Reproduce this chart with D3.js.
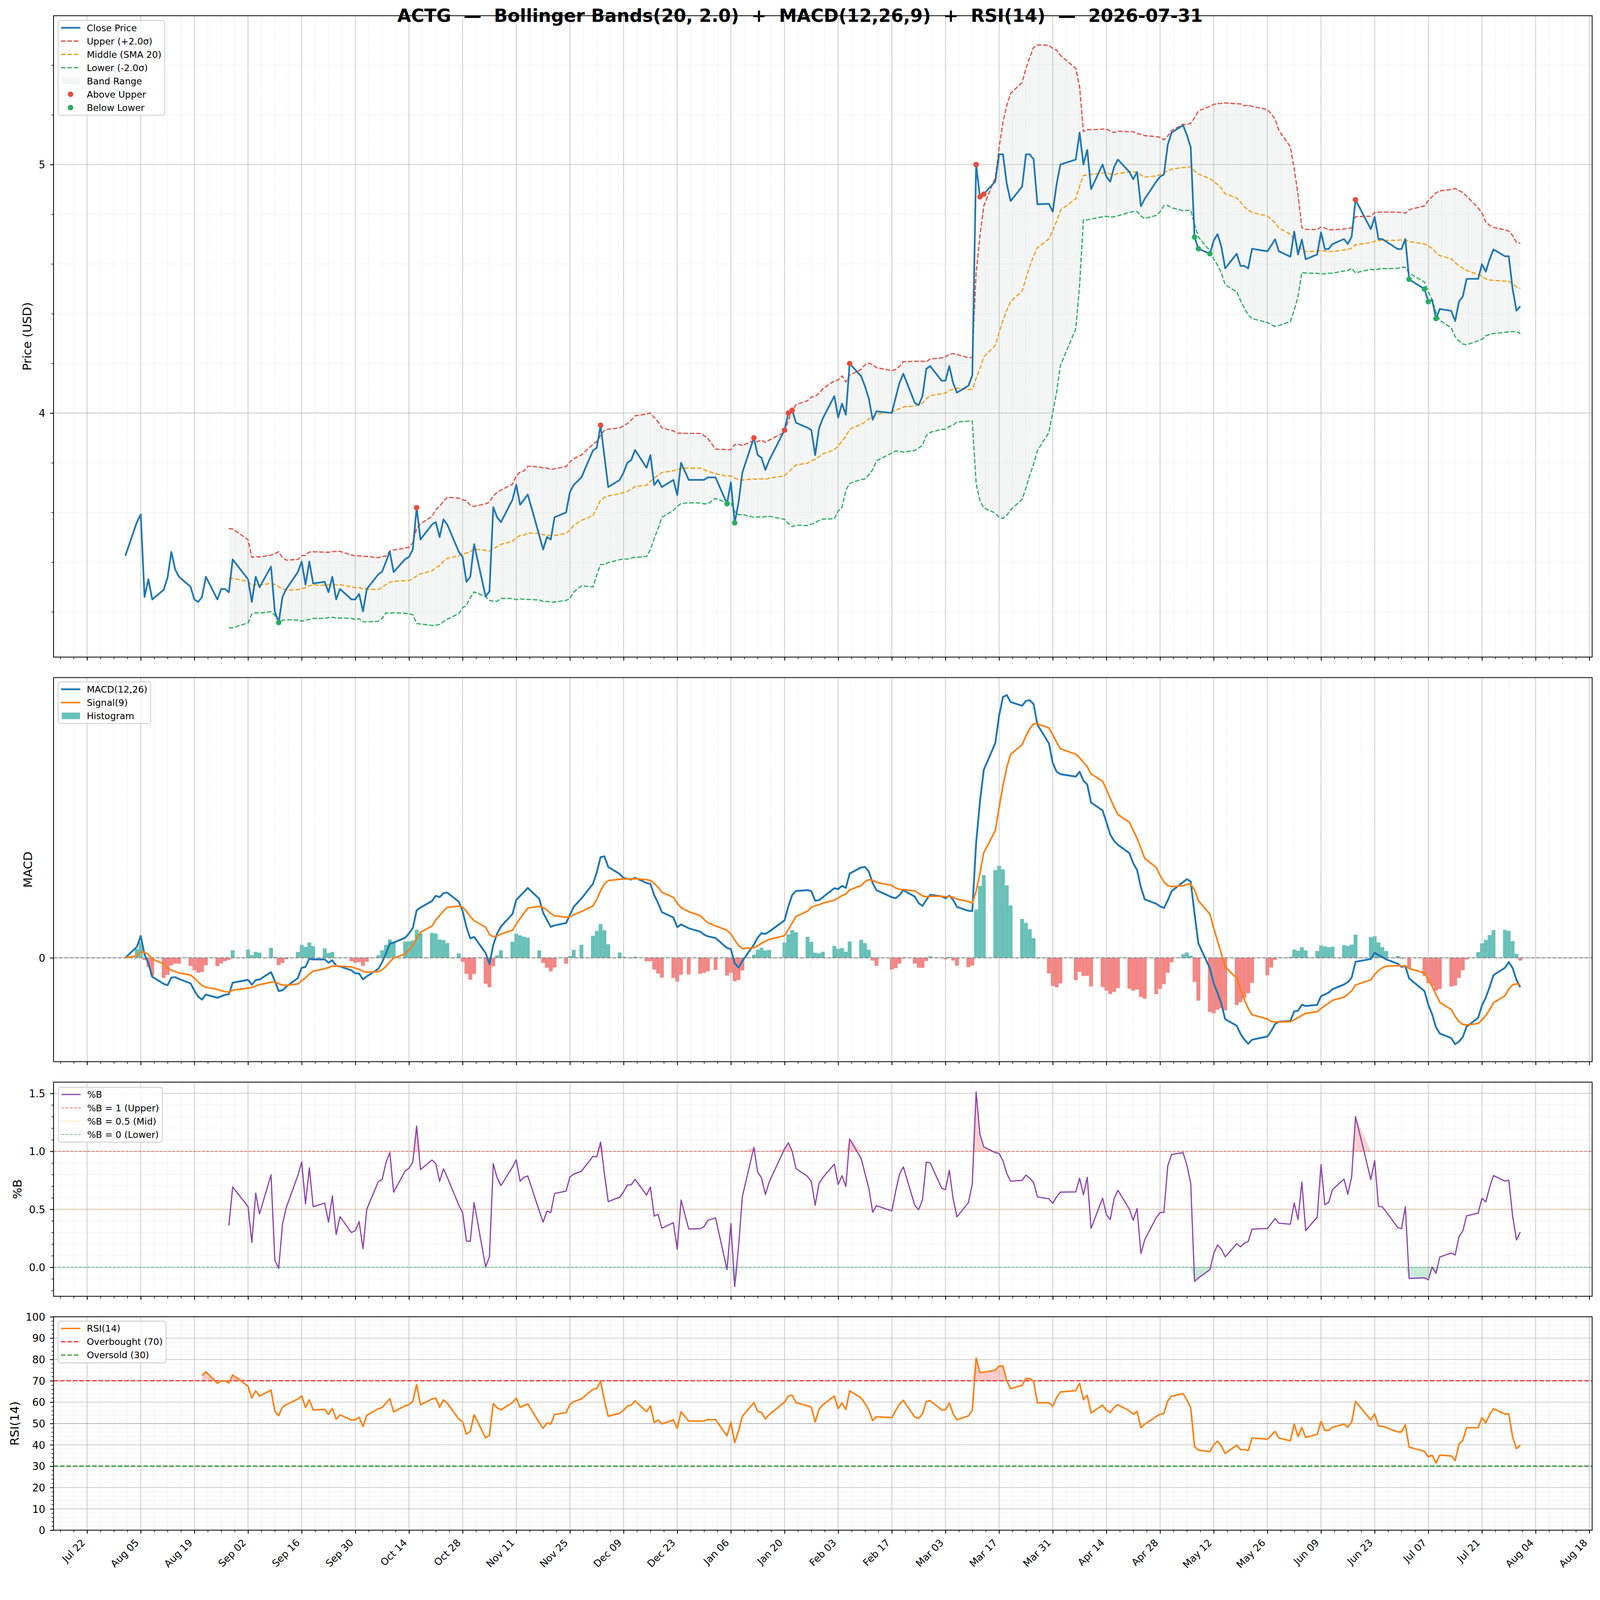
<!DOCTYPE html>
<html>
<head>
<meta charset="utf-8">
<script src="https://cdn.jsdelivr.net/npm/d3@7"></script>
<style>
  html, body { margin: 0; padding: 0; overflow: hidden; background: #fff; }
  #chart { display: block; }
  text { font-family: 'DejaVu Sans', sans-serif; }
</style>
</head>
<body>
<svg id="chart"></svg>
<script>
'use strict'

const W = 4378, H = 4322;

// ---- data ----
const FIRST_DAY = '2025-08-01';
const LAST_DAY = '2026-07-31';
const HOLIDAYS = ['2025-09-01', '2025-11-27', '2025-12-25', '2026-01-01', '2026-01-19',
	'2026-02-16', '2026-04-03', '2026-05-25', '2026-06-19', '2026-07-03'];

const closeAug = [3.426, 3.561, 3.592, 3.260, 3.331, 3.250, 3.289, 3.338, 3.441, 3.370, 3.341,
	3.301, 3.250, 3.240, 3.260, 3.341, 3.250, 3.292, 3.292, 3.279, 3.411];
const closeSep = [3.331, 3.240, 3.341, 3.299, 3.382, 3.201, 3.157, 3.260, 3.292, 3.360, 3.402,
	3.309, 3.402, 3.314, 3.321, 3.279, 3.341, 3.250, 3.292, 3.250, 3.250];
const closeOct = [3.272, 3.202, 3.292, 3.351, 3.362, 3.402, 3.442, 3.360, 3.412, 3.421, 3.451,
	3.619, 3.491, 3.551, 3.561, 3.501, 3.572, 3.551, 3.442, 3.421, 3.321, 3.341, 3.472];
const closeNov = [3.262, 3.282, 3.621, 3.581, 3.561, 3.651, 3.711, 3.631, 3.651, 3.672, 3.508,
	3.451, 3.501, 3.491, 3.581, 3.600, 3.682, 3.711, 3.741];
const closeDec = [3.849, 3.860, 3.951, 3.826, 3.702, 3.731, 3.761, 3.800, 3.811, 3.851, 3.780,
	3.831, 3.710, 3.731, 3.702, 3.731, 3.670, 3.800, 3.731, 3.731, 3.731, 3.741];
const closeJan = [3.741, 3.635, 3.721, 3.558, 3.640, 3.761, 3.900, 3.831, 3.820, 3.771, 3.810,
	3.931, 4.000, 4.011, 3.961, 3.941, 3.931, 3.831, 3.938, 3.979];
const closeFeb = [4.068, 3.982, 4.038, 3.993, 4.199, 4.148, 4.107, 4.058, 3.973, 4.007, 4.000,
	4.062, 4.121, 4.158, 4.041, 4.032, 4.068, 4.178, 4.189];
const closeMar = [4.130, 4.130, 4.189, 4.121, 4.082, 4.110, 4.151, 5.000, 4.870, 4.881, 4.932,
	5.041, 5.041, 4.922, 4.853, 4.911, 5.041, 5.041, 5.021, 4.840, 4.842, 4.810];
const closeApr = [4.921, 5.000, 5.020, 5.128, 5.000, 5.059, 4.901, 5.000, 4.951, 4.931, 4.990,
	5.020, 4.970, 4.941, 4.970, 4.832, 4.862, 4.931, 4.951, 4.960, 5.079];
const closeMay = [5.128, 5.158, 5.119, 5.069, 4.708, 4.661, 4.641, 4.694, 4.720, 4.669, 4.582,
	4.641, 4.592, 4.592, 4.582, 4.661, 4.651, 4.674, 4.699, 4.651];
const closeJun = [4.629, 4.730, 4.638, 4.698, 4.619, 4.638, 4.727, 4.660, 4.660, 4.680, 4.700,
	4.680, 4.710, 4.858, 4.740, 4.789, 4.700, 4.700, 4.690, 4.660, 4.660];
const closeJul = [4.700, 4.538, 4.499, 4.448, 4.456, 4.380, 4.419, 4.411, 4.370, 4.449, 4.469,
	4.540, 4.540, 4.599, 4.569, 4.619, 4.658, 4.631, 4.631, 4.499, 4.412, 4.430];

const PRICE_TICKS = [4, 5];
const MACD_TICKS = [0];
const PCTB_TICKS = [0, 0.5, 1.0, 1.5];
const RSI_TICKS = d3.range(0, 101, 10);
const X_TICK_START = '2025-07-22';

const TITLE = 'ACTG  \u2014  Bollinger Bands(20, 2.0)  +  MACD(12,26,9)  +  RSI(14)  \u2014  2026-07-31';

// ---- dates and indicators ----
const parse = d3.utcParse('%Y-%m-%d');
const DAY = 86400000;
const holidaySet = new Set(HOLIDAYS.map(function(s) { return +parse(s); }));
const dates = d3.utcDay.range(parse(FIRST_DAY), d3.utcDay.offset(parse(LAST_DAY), 1))
	.filter(function(d) { return d.getUTCDay() % 6 !== 0 && !holidaySet.has(+d); });

const close = [].concat(closeAug, closeSep, closeOct, closeNov, closeDec, closeJan,
	closeFeb, closeMar, closeApr, closeMay, closeJun, closeJul);

function ema(arr, span) {
	var a = 2 / (span + 1), out = [];
	arr.forEach(function(v, i) { out[i] = i === 0 ? v : a * v + (1 - a) * out[i - 1]; });
	return out;
}

var n = close.length;
var middle = [], upper = [], lower = [], pctb = [];
for (var i = 0; i < n; i++) {
	if (i < 19) { middle[i] = upper[i] = lower[i] = pctb[i] = null; continue; }
	var win = close.slice(i - 19, i + 1);
	var m = d3.mean(win), s = d3.deviation(win);
	middle[i] = m; upper[i] = m + 2 * s; lower[i] = m - 2 * s;
	pctb[i] = (close[i] - lower[i]) / (upper[i] - lower[i]);
}

var ema12 = ema(close, 12), ema26 = ema(close, 26);
var macd = close.map(function(v, i) { return ema12[i] - ema26[i]; });
var signal = ema(macd, 9);
var hist = macd.map(function(v, i) { return v - signal[i]; });

// Wilder style RSI (ewm alpha 1/14, no adjust), first 14 points masked
var rsi = [], ag = 0, al = 0;
for (var i = 1; i < n; i++) {
	var dlt = close[i] - close[i - 1];
	var gn = Math.max(dlt, 0), ls = Math.max(-dlt, 0);
	if (i === 1) { ag = gn; al = ls; }
	else { ag = ag * 13 / 14 + gn / 14; al = al * 13 / 14 + ls / 14; }
	rsi[i] = i >= 14 ? (al === 0 ? 100 : 100 - 100 / (1 + ag / al)) : null;
}
rsi[0] = null;

var rows = dates.map(function(d, i) {
	return { date: d, close: close[i], upper: upper[i], middle: middle[i], lower: lower[i],
		pctb: pctb[i], macd: macd[i], signal: signal[i], hist: hist[i], rsi: rsi[i] };
});
var banded = rows.filter(function(d) { return d.upper !== null; });

// ---- layout ----
const LEFT = 146.5, RIGHT = 4356.5;
const panels = {
	price: { top: 43, bottom: 1798 },
	macd: { top: 1854, bottom: 2905 },
	pctb: { top: 2961, bottom: 3547 },
	rsi: { top: 3603, bottom: 4187 }
};

function padded(ext) {
	var p = (ext[1] - ext[0]) * 0.05;
	return [ext[0] - p, ext[1] + p];
}

var pad = (0.5 + 0.05 * ((+dates[n - 1] - +dates[0]) / DAY + 1)) * DAY;
var x = d3.scaleUtc()
	.domain([new Date(+dates[0] - pad), new Date(+dates[n - 1] + pad)])
	.range([LEFT, RIGHT]);

var yPrice = d3.scaleLinear()
	.domain(padded(d3.extent([].concat(close, upper.filter(Boolean), lower.filter(Boolean)))))
	.range([panels.price.bottom, panels.price.top]);
var yMacd = d3.scaleLinear()
	.domain(padded(d3.extent([].concat(macd, signal, hist, [0]))))
	.range([panels.macd.bottom, panels.macd.top]);
var yPctb = d3.scaleLinear()
	.domain(padded(d3.extent(pctb.filter(function(v) { return v !== null; }))))
	.range([panels.pctb.bottom, panels.pctb.top]);
var yRsi = d3.scaleLinear().domain([0, 100]).range([panels.rsi.bottom, panels.rsi.top]);

var xMajor = [];
for (var t = +parse(X_TICK_START); t <= +x.domain()[1]; t += 14 * DAY) xMajor.push(new Date(t));
var xMinor = [];
for (var t = +parse(X_TICK_START) - 7 * DAY; t <= +x.domain()[1]; t += 3.5 * DAY) {
	if (t >= +x.domain()[0]) xMinor.push(new Date(t));
}

function stepTicks(scale, step) {
	var dom = scale.domain(), out = [];
	for (var v = Math.ceil(dom[0] / step - 1e-9) * step; v <= dom[1] + 1e-9; v += step) out.push(+v.toFixed(6));
	return out;
}

// scale the drawing to the window width, keep its aspect, anchor top-left
var svg = d3.select('#chart')
	.attr('viewBox', '0 0 ' + W + ' ' + H)
	.attr('preserveAspectRatio', 'xMinYMin meet')
	.style('width', window.innerWidth + 'px')
	.style('height', (window.innerWidth * H / W) + 'px');

svg.append('rect').attr('width', W).attr('height', H).attr('fill', '#ffffff');

var defs = svg.append('defs');
Object.keys(panels).forEach(function(k) {
	var p = panels[k];
	defs.append('clipPath').attr('id', 'clip-' + k)
		.append('rect')
		.attr('x', LEFT).attr('y', p.top)
		.attr('width', RIGHT - LEFT).attr('height', p.bottom - p.top);
});

function panelGroup(k) {
	return svg.append('g').attr('clip-path', 'url(#clip-' + k + ')');
}

function drawGrid(g, k, y, majorY, minorY) {
	var p = panels[k];
	g.selectAll('.gxm').data(xMinor).enter().append('line')
		.attr('x1', function(d) { return x(d); }).attr('x2', function(d) { return x(d); })
		.attr('y1', p.top).attr('y2', p.bottom)
		.attr('stroke', '#b0b0b0').attr('stroke-opacity', 0.45)
		.attr('stroke-width', 1.4).attr('stroke-dasharray', '1.4,2.3');
	g.selectAll('.gym').data(minorY).enter().append('line')
		.attr('x1', LEFT).attr('x2', RIGHT)
		.attr('y1', function(d) { return y(d); }).attr('y2', function(d) { return y(d); })
		.attr('stroke', '#b0b0b0').attr('stroke-opacity', 0.45)
		.attr('stroke-width', 1.4).attr('stroke-dasharray', '1.4,2.3');
	g.selectAll('.gxM').data(xMajor).enter().append('line')
		.attr('x1', function(d) { return x(d); }).attr('x2', function(d) { return x(d); })
		.attr('y1', p.top).attr('y2', p.bottom)
		.attr('stroke', '#b0b0b0').attr('stroke-opacity', 0.6).attr('stroke-width', 2.2);
	g.selectAll('.gyM').data(majorY).enter().append('line')
		.attr('x1', LEFT).attr('x2', RIGHT)
		.attr('y1', function(d) { return y(d); }).attr('y2', function(d) { return y(d); })
		.attr('stroke', '#b0b0b0').attr('stroke-opacity', 0.6).attr('stroke-width', 2.2);
}

function hline(g, y, v, color, opacity, width, dash) {
	g.append('line')
		.attr('x1', LEFT).attr('x2', RIGHT)
		.attr('y1', y(v)).attr('y2', y(v))
		.attr('stroke', color).attr('stroke-opacity', opacity)
		.attr('stroke-width', width).attr('stroke-dasharray', dash);
}

function path(g, data, y, key, color, width, dash) {
	g.append('path')
		.datum(data)
		.attr('fill', 'none')
		.attr('stroke', color)
		.attr('stroke-width', width)
		.attr('stroke-linejoin', 'round')
		.attr('stroke-dasharray', dash || null)
		.attr('d', d3.line()
			.defined(function(d) { return d[key] !== null; })
			.x(function(d) { return x(d.date); })
			.y(function(d) { return y(d[key]); }));
}

function clippedFill(g, data, y, key, level, above, color, opacity) {
	g.append('path')
		.datum(data.filter(function(d) { return d[key] !== null; }))
		.attr('fill', color).attr('fill-opacity', opacity)
		.attr('d', d3.area()
			.x(function(d) { return x(d.date); })
			.y0(y(level))
			.y1(function(d) { return y(above ? Math.max(d[key], level) : Math.min(d[key], level)); }));
}

function axes(k, y, majorY, minorY, fmt, showX) {
	var p = panels[k];
	var g = svg.append('g');

	var ax = g.append('g').attr('transform', 'translate(0,' + p.bottom + ')')
		.call(d3.axisBottom(x).tickValues(xMinor).tickSize(5.6).tickFormat(''));
	ax.selectAll('line').attr('stroke-width', 1.7);
	var axM = g.append('g').attr('transform', 'translate(0,' + p.bottom + ')')
		.call(d3.axisBottom(x).tickValues(xMajor).tickSize(9.7).tickFormat(''));
	axM.selectAll('line').attr('stroke-width', 2.2);
	if (showX) {
		axM.selectAll('.tick').append('text')
			.attr('fill', '#000')
			.attr('font-size', 27)
			.attr('text-anchor', 'end')
			.attr('transform', 'translate(-4,36) rotate(-45)')
			.text(function(d) { return d3.utcFormat('%b %d')(d); });
	}

	var ay = g.append('g').attr('transform', 'translate(' + LEFT + ',0)')
		.call(d3.axisLeft(y).tickValues(minorY).tickSize(5.6).tickFormat(''));
	ay.selectAll('line').attr('stroke-width', 1.7);
	var ayM = g.append('g').attr('transform', 'translate(' + LEFT + ',0)')
		.call(d3.axisLeft(y).tickValues(majorY).tickSize(9.7).tickPadding(13).tickFormat(fmt));
	ayM.selectAll('line').attr('stroke-width', 2.2);
	ayM.selectAll('text')
		.attr('font-size', 28)
		.attr('dy', '0.36em');

	g.selectAll('.domain').remove();
	g.selectAll('.tick text').attr('font-family', 'DejaVu Sans');

	g.append('rect')
		.attr('x', LEFT).attr('y', p.top)
		.attr('width', RIGHT - LEFT).attr('height', p.bottom - p.top)
		.attr('fill', 'none').attr('stroke', '#000').attr('stroke-width', 2.2);
}

function ylabel(k, text, xpos) {
	var p = panels[k];
	svg.append('text')
		.attr('transform', 'translate(' + xpos + ',' + ((p.top + p.bottom) / 2) + ') rotate(-90)')
		.attr('text-anchor', 'middle')
		.attr('dy', '0.36em')
		.attr('font-size', 33)
		.text(text);
}

function legend(lx, ly, items) {
	var g = svg.append('g').attr('transform', 'translate(' + lx + ',' + ly + ')');
	var box = g.append('rect');
	var maxLen = 0;
	items.forEach(function(it, i) {
		var cy = 20 + i * 36.4;
		if (it.type === 'line') {
			g.append('line')
				.attr('x1', 8).attr('x2', 61).attr('y1', cy).attr('y2', cy)
				.attr('stroke', it.color).attr('stroke-width', it.width)
				.attr('stroke-opacity', it.opacity || 1)
				.attr('stroke-dasharray', it.dash || null);
		} else if (it.type === 'patch') {
			g.append('rect')
				.attr('x', 10).attr('y', cy - 9).attr('width', 50).attr('height', 18)
				.attr('fill', it.color).attr('fill-opacity', it.opacity);
		} else {
			g.append('circle').attr('cx', 34).attr('cy', cy).attr('r', 7.5).attr('fill', it.color);
		}
		var t = g.append('text')
			.attr('x', 78.5).attr('y', cy).attr('dy', '0.36em')
			.attr('font-size', 25)
			.text(it.label);
		maxLen = Math.max(maxLen, t.node().getComputedTextLength());
	});
	box.attr('x', 0).attr('y', 0)
		.attr('width', 78.5 + maxLen + 9)
		.attr('height', 20 + (items.length - 1) * 36.4 + 21)
		.attr('rx', 6)
		.attr('fill', '#fff').attr('fill-opacity', 0.8)
		.attr('stroke', '#cccccc').attr('stroke-width', 2.2);
}

// ---- price panel ----
var gp = panelGroup('price');
gp.append('path')
	.datum(banded)
	.attr('fill', '#95a5a6').attr('fill-opacity', 0.1)
	.attr('d', d3.area()
		.x(function(d) { return x(d.date); })
		.y0(function(d) { return yPrice(d.lower); })
		.y1(function(d) { return yPrice(d.upper); }));
drawGrid(gp, 'price', yPrice, PRICE_TICKS, stepTicks(yPrice, 0.2));
path(gp, rows, yPrice, 'upper', '#e74c3c', 3.3, '12.3,5.3');
path(gp, rows, yPrice, 'middle', '#f39c12', 3.3, '12.3,5.3');
path(gp, rows, yPrice, 'lower', '#27ae60', 3.3, '12.3,5.3');
path(gp, rows, yPrice, 'close', '#1f77b4', 4.7);
gp.selectAll('.above')
	.data(banded.filter(function(d) { return d.close > d.upper; }))
	.enter().append('circle')
	.attr('cx', function(d) { return x(d.date); })
	.attr('cy', function(d) { return yPrice(d.close); })
	.attr('r', 7.5).attr('fill', '#e74c3c');
gp.selectAll('.below')
	.data(banded.filter(function(d) { return d.close < d.lower; }))
	.enter().append('circle')
	.attr('cx', function(d) { return x(d.date); })
	.attr('cy', function(d) { return yPrice(d.close); })
	.attr('r', 7.5).attr('fill', '#27ae60');
axes('price', yPrice, PRICE_TICKS, stepTicks(yPrice, 0.2), d3.format('d'), false);
ylabel('price', 'Price (USD)', 74);

// ---- MACD panel ----
var gm = panelGroup('macd');
gm.selectAll('.bar')
	.data(rows)
	.enter().append('rect')
	.attr('x', function(d) { return x(+d.date - DAY / 2); })
	.attr('width', function(d) { return x(+d.date + DAY / 2) - x(+d.date - DAY / 2); })
	.attr('y', function(d) { return yMacd(Math.max(d.hist, 0)); })
	.attr('height', function(d) { return Math.abs(yMacd(d.hist) - yMacd(0)); })
	.attr('fill', function(d) { return d.hist >= 0 ? '#26a69a' : '#ef5350'; })
	.attr('fill-opacity', 0.7);
drawGrid(gm, 'macd', yMacd, MACD_TICKS, []);
hline(gm, yMacd, 0, '#808080', 0.9, 2.8, '10.3,4.4');
path(gm, rows, yMacd, 'macd', '#1f77b4', 5);
path(gm, rows, yMacd, 'signal', '#ff7f0e', 4.4);
axes('macd', yMacd, MACD_TICKS, [], d3.format('d'), false);
ylabel('macd', 'MACD', 76);

// ---- %B panel ----
var gb = panelGroup('pctb');
clippedFill(gb, rows, yPctb, 'pctb', 1, true, '#e74c3c', 0.25);
clippedFill(gb, rows, yPctb, 'pctb', 0, false, '#27ae60', 0.25);
drawGrid(gb, 'pctb', yPctb, PCTB_TICKS, stepTicks(yPctb, 0.1));
hline(gb, yPctb, 1, '#e74c3c', 0.7, 2.2, '8.1,3.5');
hline(gb, yPctb, 0.5, '#f39c12', 0.6, 2.2, '2.2,3.6');
hline(gb, yPctb, 0, '#27ae60', 0.7, 2.2, '8.1,3.5');
path(gb, rows, yPctb, 'pctb', '#8e44ad', 3.3);
axes('pctb', yPctb, PCTB_TICKS, stepTicks(yPctb, 0.1), d3.format('.1f'), false);
ylabel('pctb', '%B', 47);

// ---- RSI panel ----
var gr = panelGroup('rsi');
clippedFill(gr, rows, yRsi, 'rsi', 70, true, '#ff0000', 0.2);
clippedFill(gr, rows, yRsi, 'rsi', 30, false, '#008000', 0.2);
drawGrid(gr, 'rsi', yRsi, RSI_TICKS, stepTicks(yRsi, 2));
hline(gr, yRsi, 50, '#808080', 0.7, 2.2, '2.2,3.6');
hline(gr, yRsi, 70, '#ff0000', 0.8, 3.3, '12.3,5.3');
hline(gr, yRsi, 30, '#008000', 0.8, 3.3, '12.3,5.3');
path(gr, rows, yRsi, 'rsi', '#ff7f0e', 4.2);
axes('rsi', yRsi, RSI_TICKS, stepTicks(yRsi, 2), d3.format('d'), true);
ylabel('rsi', 'RSI(14)', 39);

// ---- legends ----
legend(159, 56, [
	{ type: 'line', color: '#1f77b4', width: 4.7, label: 'Close Price' },
	{ type: 'line', color: '#e74c3c', width: 3.3, dash: '12.3,5.3', label: 'Upper (+2.0\u03c3)' },
	{ type: 'line', color: '#f39c12', width: 3.3, dash: '12.3,5.3', label: 'Middle (SMA 20)' },
	{ type: 'line', color: '#27ae60', width: 3.3, dash: '12.3,5.3', label: 'Lower (-2.0\u03c3)' },
	{ type: 'patch', color: '#95a5a6', opacity: 0.1, label: 'Band Range' },
	{ type: 'dot', color: '#e74c3c', label: 'Above Upper' },
	{ type: 'dot', color: '#27ae60', label: 'Below Lower' }
]);
legend(159, 1866, [
	{ type: 'line', color: '#1f77b4', width: 5, label: 'MACD(12,26)' },
	{ type: 'line', color: '#ff7f0e', width: 4.4, label: 'Signal(9)' },
	{ type: 'patch', color: '#26a69a', opacity: 0.7, label: 'Histogram' }
]);
legend(160, 2975, [
	{ type: 'line', color: '#8e44ad', width: 3.3, label: '%B' },
	{ type: 'line', color: '#e74c3c', width: 2.2, opacity: 0.7, dash: '8.1,3.5', label: '%B = 1 (Upper)' },
	{ type: 'line', color: '#f39c12', width: 2.2, opacity: 0.6, dash: '2.2,3.6', label: '%B = 0.5 (Mid)' },
	{ type: 'line', color: '#27ae60', width: 2.2, opacity: 0.7, dash: '8.1,3.5', label: '%B = 0 (Lower)' }
]);
legend(159, 3615, [
	{ type: 'line', color: '#ff7f0e', width: 4.2, label: 'RSI(14)' },
	{ type: 'line', color: '#ff0000', width: 3.3, opacity: 0.8, dash: '12.3,5.3', label: 'Overbought (70)' },
	{ type: 'line', color: '#008000', width: 3.3, opacity: 0.8, dash: '12.3,5.3', label: 'Oversold (30)' }
]);

// ---- title ----
svg.append('text')
	.attr('x', 2189).attr('y', 60)
	.attr('text-anchor', 'middle')
	.attr('font-size', 49)
	.attr('font-weight', 'bold')
	.style('white-space', 'pre')
	.text(TITLE);
</script>
</body>
</html>
